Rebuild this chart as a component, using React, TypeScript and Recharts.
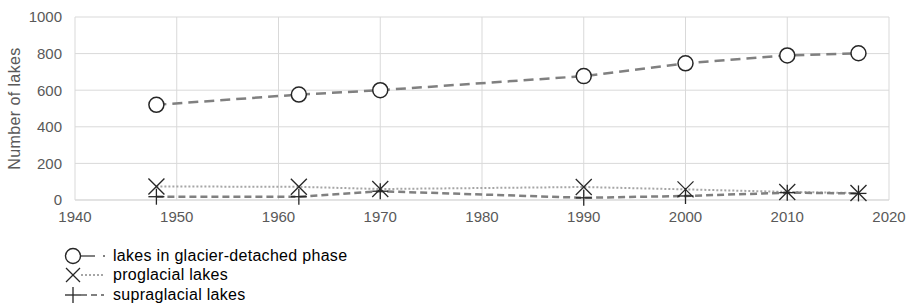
import React from "react";
import { LineChart, Line, XAxis, YAxis, CartesianGrid } from "recharts";

const years = [1948, 1962, 1970, 1990, 2000, 2010, 2017];
const detached = [520, 576, 600, 677, 747, 790, 802];
const proglacial = [74, 72, 60, 71, 58, 44, 38];
const supraglacial = [18, 18, 48, 12, 22, 40, 36];
const seriesNames = [
  "lakes in glacier-detached phase",
  "proglacial lakes",
  "supraglacial lakes",
];
const xTicks = [1940, 1950, 1960, 1970, 1980, 1990, 2000, 2010, 2020];
const yTicks = [0, 200, 400, 600, 800, 1000];

const data = years.map((year, i) => ({
  year,
  detached: detached[i],
  proglacial: proglacial[i],
  supraglacial: supraglacial[i],
}));

const FONT = "'Liberation Sans', Arial, sans-serif";
const TEXT = "#595959";
const MARK = "#262626";

const CircleDot = (props: any) => {
  const { cx, cy } = props;
  if (cx == null || cy == null) return null;
  return <circle cx={cx} cy={cy} r={7.5} fill="#fff" stroke={MARK} strokeWidth={1.5} />;
};

const CrossDot = (props: any) => {
  const { cx, cy } = props;
  if (cx == null || cy == null) return null;
  const s = 8;
  return (
    <g stroke={MARK} strokeWidth={1.3}>
      <line x1={cx - s} y1={cy - s} x2={cx + s} y2={cy + s} />
      <line x1={cx - s} y1={cy + s} x2={cx + s} y2={cy - s} />
    </g>
  );
};

const PlusDot = (props: any) => {
  const { cx, cy } = props;
  if (cx == null || cy == null) return null;
  const s = 8;
  return (
    <g stroke={MARK} strokeWidth={1.3}>
      <line x1={cx - s} y1={cy} x2={cx + s} y2={cy} />
      <line x1={cx} y1={cy - s} x2={cx} y2={cy + s} />
    </g>
  );
};

function LegendIcon({ kind }: { kind: number }) {
  return (
    <svg width={44} height={18} style={{ display: "block" }}>
      {kind === 0 && (
        <>
          <line x1={17} y1={9} x2={31} y2={9} stroke="#808080" strokeWidth={2} />
          <line x1={39} y1={9} x2={41} y2={9} stroke="#808080" strokeWidth={2} />
          <circle cx={9} cy={9} r={7.5} fill="#fff" stroke={MARK} strokeWidth={1.4} />
        </>
      )}
      {kind === 1 && (
        <>
          <line x1={17} y1={9} x2={40} y2={9} stroke="#a6a6a6" strokeWidth={2} strokeDasharray="2 2" />
          <line x1={2} y1={2} x2={16} y2={16} stroke={MARK} strokeWidth={1.3} />
          <line x1={2} y1={16} x2={16} y2={2} stroke={MARK} strokeWidth={1.3} />
        </>
      )}
      {kind === 2 && (
        <>
          <line x1={17} y1={9} x2={40} y2={9} stroke="#808080" strokeWidth={2} strokeDasharray="6 4" />
          <line x1={1} y1={9} x2={17} y2={9} stroke={MARK} strokeWidth={1.3} />
          <line x1={9} y1={1} x2={9} y2={17} stroke={MARK} strokeWidth={1.3} />
        </>
      )}
    </svg>
  );
}

export default function App() {
  return (
    <div
      style={{
        position: "absolute",
        left: 0,
        top: 0,
        width: 909,
        height: 307,
        background: "#fff",
        fontFamily: FONT,
      }}
    >
      <LineChart
        width={909}
        height={232}
        data={data}
        margin={{ top: 17, right: 20, left: 0, bottom: 0 }}
      >
        <CartesianGrid stroke="#d9d9d9" strokeWidth={1} />
        <XAxis
          dataKey="year"
          type="number"
          domain={[1940, 2020]}
          ticks={xTicks}
          tickLine={false}
          axisLine={{ stroke: "#d9d9d9" }}
          tickSize={0}
          tickMargin={11}
          height={32}
          tick={{ fill: TEXT, fontSize: 15, fontFamily: FONT }}
        />
        <YAxis
          type="number"
          domain={[0, 1000]}
          ticks={yTicks}
          tickLine={false}
          axisLine={false}
          tickSize={0}
          tickMargin={13}
          width={75}
          tick={{ fill: TEXT, fontSize: 15, fontFamily: FONT }}
          label={{
            value: "Number of lakes",
            angle: -90,
            position: "insideLeft",
            offset: 14,
            style: {
              fill: TEXT,
              fontSize: 16,
              letterSpacing: 0.4,
              fontFamily: FONT,
              textAnchor: "middle",
            },
          }}
        />
        <Line
          dataKey="proglacial"
          stroke="#a6a6a6"
          strokeWidth={2}
          strokeDasharray="2 2"
          dot={<CrossDot />}
          activeDot={false}
          isAnimationActive={false}
        />
        <Line
          dataKey="supraglacial"
          stroke="#808080"
          strokeWidth={2.5}
          strokeDasharray="7 4"
          dot={<PlusDot />}
          activeDot={false}
          isAnimationActive={false}
        />
        <Line
          dataKey="detached"
          stroke="#808080"
          strokeWidth={2.5}
          strokeDasharray="10 6"
          dot={<CircleDot />}
          activeDot={false}
          isAnimationActive={false}
        />
      </LineChart>
      <div style={{ position: "absolute", left: 64, top: 246 }}>
        {seriesNames.map((name, i) => (
          <div
            key={name}
            style={{ display: "flex", alignItems: "center", height: 19.5, lineHeight: "18px" }}
          >
            <LegendIcon kind={i} />
            <span style={{ marginLeft: 5, fontSize: 16, letterSpacing: 0.3, color: "#000" }}>
              {name}
            </span>
          </div>
        ))}
      </div>
    </div>
  );
}
